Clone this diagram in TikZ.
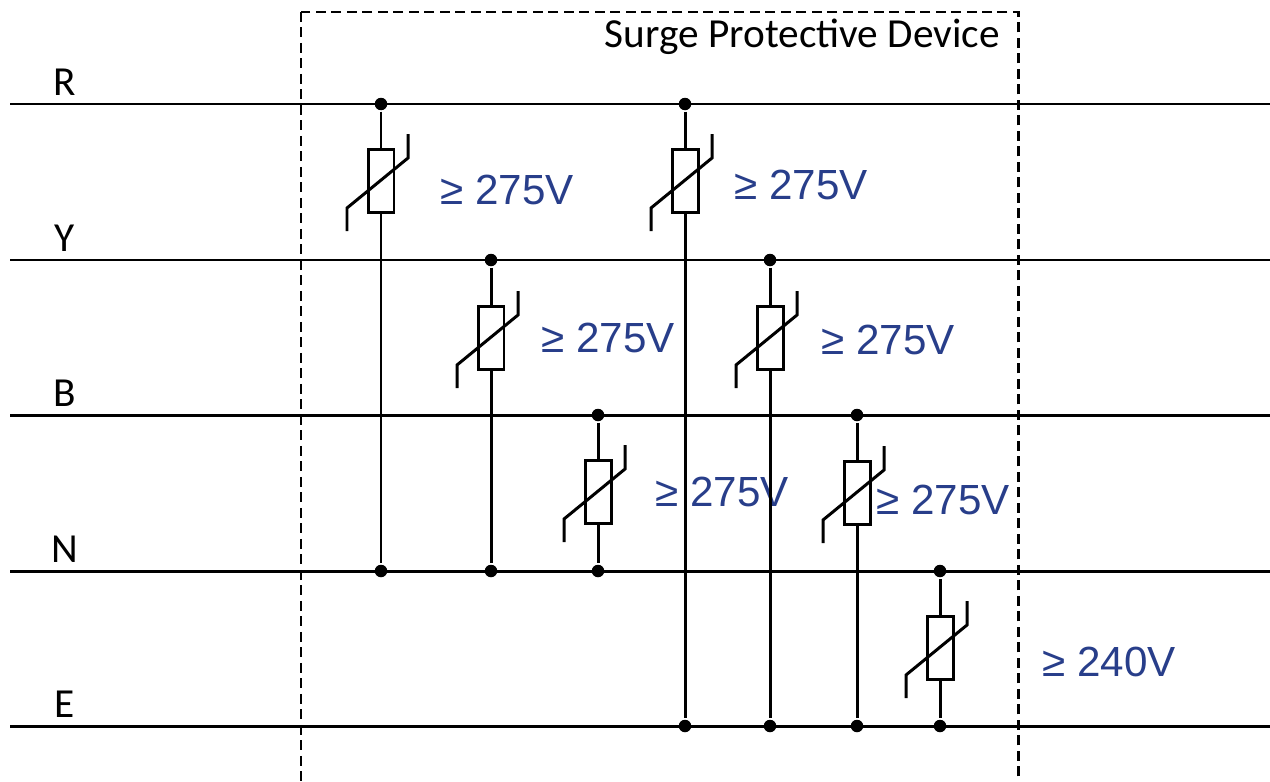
\documentclass[tikz,border=0pt]{standalone}
\usepackage{fontspec}
\setmainfont{Liberation Sans}
\newfontfamily\calibri{Carlito}
\usetikzlibrary{positioning}
\definecolor{spdblue}{RGB}{40,62,138}

\begin{document}
\begin{tikzpicture}[x=0.02cm, y=-0.02cm, line width=1.7pt]
    \tikzstyle{dot} = [circle, fill, inner sep=0pt, minimum size=0.25cm]
    \tikzstyle{res} = [draw, inner sep=0pt, minimum width=0.52cm, minimum height=1.26cm]
    \tikzstyle{volt} = [text=spdblue, inner sep=0pt, font=\fontsize{24}{24}\selectfont]
    \tikzstyle{phase} = [inner sep=0pt, font=\calibri\fontsize{23.5}{23.5}\selectfont]
    \useasboundingbox (0,0) rectangle (1270,781);
    % supply lines
    \foreach \name/\y in {R/104, Y/260, B/415, N/571, E/726} {
        \coordinate (\name0) at (10,\y);
        \coordinate (\name1) at (1270,\y);
        \draw (\name0) -- (\name1);
        \node[phase, above=5pt of \name0, xshift=55*0.02cm, anchor=base] (t\name) {\name};
    }
    % device box
    \draw[line width=1.7pt, dash pattern=on 0.2cm off 0.11cm] (301,12) rectangle (1018,795);
    \node[phase, anchor=east] (title) at (1001,37) {Surge Protective Device};
    % varistors
    \foreach \cx/\ya/\yb/\vy/\lx/\ly/\volts [count=\i] in {
        381/104/571/181/507/190/275,
        491/260/571/338/608/338/275,
        598/415/571/492/722/492/275,
        685/104/726/181/801/185/275,
        770/260/726/338/888/340/275,
        857/415/726/493/943/500/275,
        940/571/726/648/1109/662/240}
    {
        \node[dot] (a\i) at (\cx,\ya) {};
        \node[dot] (b\i) at (\cx,\yb) {};
        \node[res] (v\i) at (\cx,\vy) {};
        \draw (a\i) -- (v\i) (v\i) -- (b\i);
        \draw ([shift={(-34,50)}]v\i.center) -- ++(0,-23) -- ++(61,-50) -- ++(0,-24);
        \node[volt] (l\i) at (\lx,\ly) {≥ \volts V};
    }
\end{tikzpicture}
\end{document}
